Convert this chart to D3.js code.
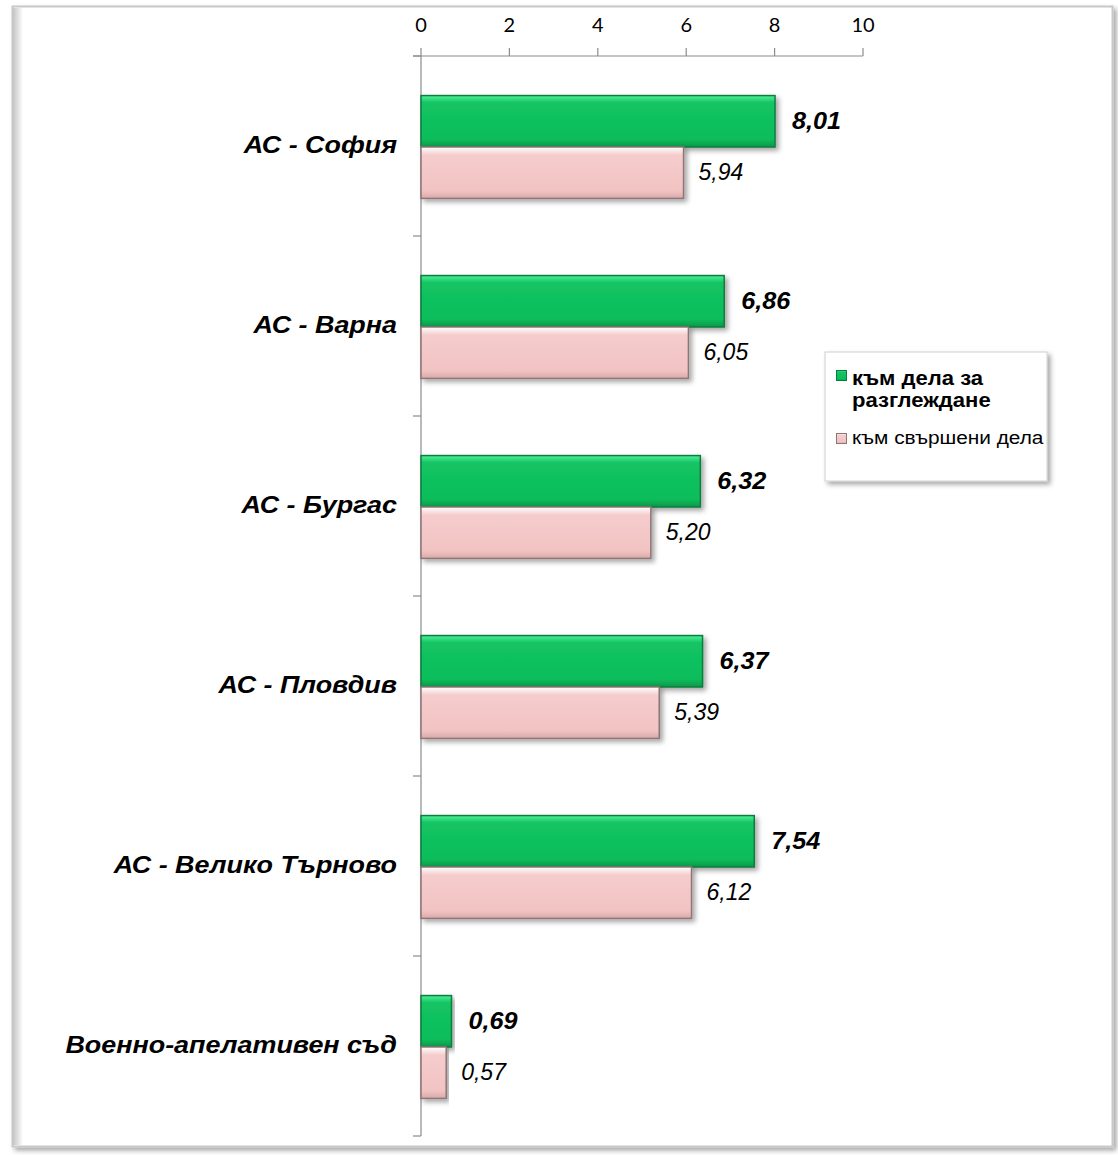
<!DOCTYPE html>
<html lang="bg">
<head>
<meta charset="UTF-8">
<script src="https://d3js.org/d3.v7.min.js"></script>
<style>
  body { margin: 0; background: #fff; }
  svg { display: block; }
  .arial { font-family: "Liberation Sans", Arimo, Arial, sans-serif; }
</style>
</head>
<body>
<script>
const width = 1118;
const height = 1155;

const categories = ["АС - София", "АС - Варна", "АС - Бургас", "АС - Пловдив", "АС - Велико Търново", "Военно-апелативен съд"];
const pending = [8.01, 6.86, 6.32, 6.37, 7.54, 0.69];   // към дела за разглеждане
const finished = [5.94, 6.05, 5.20, 5.39, 6.12, 0.57];  // към свършени дела
const xTicks = [0, 2, 4, 6, 8, 10];
const legendLines = [["към дела за", "разглеждане"], ["към свършени дела"]];

const svg = d3.select("body").append("svg")
  .attr("width", width)
  .attr("height", height);

const defs = svg.append("defs");

// shadow
const fs = defs.append("filter").attr("id", "shadow").attr("x", "-10%").attr("y", "-10%").attr("width", "120%").attr("height", "130%");
fs.append("feDropShadow").attr("dx", 3).attr("dy", 3).attr("stdDeviation", 2.5).attr("flood-color", "#000").attr("flood-opacity", 0.35);

// bar gradients
const gGreen = defs.append("linearGradient").attr("id", "gGreen").attr("x1", 0).attr("y1", 0).attr("x2", 0).attr("y2", 1);
gGreen.append("stop").attr("offset", "0%").attr("stop-color", "#4ff29a");
gGreen.append("stop").attr("offset", "14%").attr("stop-color", "#14c463");
gGreen.append("stop").attr("offset", "85%").attr("stop-color", "#0bbd5a");
gGreen.append("stop").attr("offset", "100%").attr("stop-color", "#08974a");

const gPink = defs.append("linearGradient").attr("id", "gPink").attr("x1", 0).attr("y1", 0).attr("x2", 0).attr("y2", 1);
gPink.append("stop").attr("offset", "0%").attr("stop-color", "#ffffff");
gPink.append("stop").attr("offset", "16%").attr("stop-color", "#f5cccc");
gPink.append("stop").attr("offset", "85%").attr("stop-color", "#f2c3c3");
gPink.append("stop").attr("offset", "100%").attr("stop-color", "#d9a9a9");

// outer frame
svg.append("rect")
  .attr("x", 12.5).attr("y", 6.5)
  .attr("width", 1100).attr("height", 1140)
  .attr("fill", "#fff")
  .attr("stroke", "#c8c8c8")
  .attr("stroke-width", 2)
  .attr("filter", "url(#shadow)");
const fg = defs.append("linearGradient").attr("id", "fLeft").attr("x1", 0).attr("x2", 1).attr("y1", 0).attr("y2", 0);
fg.append("stop").attr("offset", "0%").attr("stop-color", "#c4c4c4");
fg.append("stop").attr("offset", "100%").attr("stop-color", "#ffffff");
svg.append("rect").attr("x", 13).attr("y", 8).attr("width", 10).attr("height", 1137).attr("fill", "url(#fLeft)");

const x = d3.scaleLinear().domain([0, 10]).range([421, 863]);
const y = d3.scaleBand().domain(categories).range([56, 1136]).paddingInner(0).paddingOuter(0);

// top axis
const axis = svg.append("g").attr("transform", "translate(0,56)");
axis.append("line").attr("x1", 413).attr("x2", x(10)).attr("stroke", "#8c8c8c").attr("stroke-width", 1.2);
axis.selectAll("line.tick").data(xTicks).join("line")
  .attr("class", "tick")
  .attr("x1", d => x(d)).attr("x2", d => x(d))
  .attr("y1", -8).attr("y2", 0)
  .attr("stroke", "#8c8c8c").attr("stroke-width", 1.2);
axis.selectAll("text").data(xTicks).join("text")
  .attr("x", d => x(d)).attr("y", -24)
  .attr("text-anchor", "middle")
  .attr("font-family", "Lato, 'Open Sans', sans-serif")
  .attr("font-size", 20)
  .attr("fill", "#000")
  .text(d => d);

// vertical axis
svg.append("line").attr("x1", x(0)).attr("x2", x(0)).attr("y1", 56).attr("y2", 1136)
  .attr("stroke", "#8c8c8c").attr("stroke-width", 1.2);
svg.selectAll("line.ctick").data(d3.range(categories.length + 1)).join("line")
  .attr("class", "ctick")
  .attr("x1", 413).attr("x2", x(0))
  .attr("y1", i => 56 + i * y.bandwidth()).attr("y2", i => 56 + i * y.bandwidth())
  .attr("stroke", "#8c8c8c").attr("stroke-width", 1.2);

// bars
const inner = d3.scaleBand().domain([0, 1]).range([0, y.bandwidth()]).paddingOuter(0.75).paddingInner(0);

function drawSeries(values, s, fill, stroke) {
  const g = svg.append("g");
  g.selectAll("rect").data(values).join("rect")
    .attr("x", x(0))
    .attr("y", (d, i) => y(categories[i]) + inner(s) + 1)
    .attr("width", d => x(d) - x(0))
    .attr("height", inner.bandwidth())
    .attr("fill", fill)
    .attr("stroke", stroke)
    .attr("stroke-width", 1.5)
    .attr("filter", "url(#shadow)");
}
drawSeries(pending, 0, "url(#gGreen)", "#0a7d3e");
drawSeries(finished, 1, "url(#gPink)", "#8f7676");

// value labels
svg.append("g").selectAll("text").data(pending).join("text")
  .attr("class", "arial")
  .attr("transform", (d, i) => `translate(${x(d) + 17},${y(categories[i]) + inner(0) + inner.bandwidth() / 2 + 2}) scale(1.05,1)`)
  .attr("dominant-baseline", "middle")
  .attr("font-size", 24)
  .attr("font-weight", "bold")
  .attr("font-style", "italic")
  .text(d => d.toFixed(2).replace(".", ","));

svg.append("g").selectAll("text").data(finished).join("text")
  .attr("class", "arial")
  .attr("x", d => x(d) + 15)
  .attr("y", (d, i) => y(categories[i]) + inner(1) + inner.bandwidth() / 2 + 2)
  .attr("dominant-baseline", "middle")
  .attr("font-size", 23)
  .attr("font-style", "italic")
  .text(d => d.toFixed(2).replace(".", ","));

// category labels
svg.append("g").selectAll("text").data(categories).join("text")
  .attr("class", "arial")
  .attr("transform", d => `translate(397,${y(d) + y.bandwidth() / 2 + 1}) scale(1.17,1)`)
  .attr("dominant-baseline", "middle")
  .attr("text-anchor", "end")
  .attr("font-size", 23)
  .attr("font-weight", "bold")
  .attr("font-style", "italic")
  .text(d => d);

// legend
const lg = svg.append("g").attr("transform", "translate(825,352)");
lg.append("rect").attr("width", 222).attr("height", 129)
  .attr("fill", "#fff").attr("stroke", "#d0d0d0").attr("filter", "url(#shadow)");
lg.append("rect").attr("x", 11.5).attr("y", 18.5).attr("width", 10).attr("height", 10)
  .attr("fill", "url(#gGreen)").attr("stroke", "#0a7d3e");
lg.append("text").attr("class", "arial")
  .attr("transform", "translate(27,33) scale(1.05,1)")
  .attr("font-size", 21).attr("font-weight", "bold")
  .selectAll("tspan").data(legendLines[0]).join("tspan")
  .attr("x", 0).attr("dy", (d, i) => i ? 22 : 0)
  .text(d => d);
lg.append("rect").attr("x", 11.5).attr("y", 81.5).attr("width", 10).attr("height", 10)
  .attr("fill", "url(#gPink)").attr("stroke", "#8f7676");
lg.append("text").attr("class", "arial")
  .attr("transform", "translate(27,92) scale(1.19,1)")
  .attr("font-size", 17.5)
  .text(legendLines[1][0]);
</script>
</body>
</html>
